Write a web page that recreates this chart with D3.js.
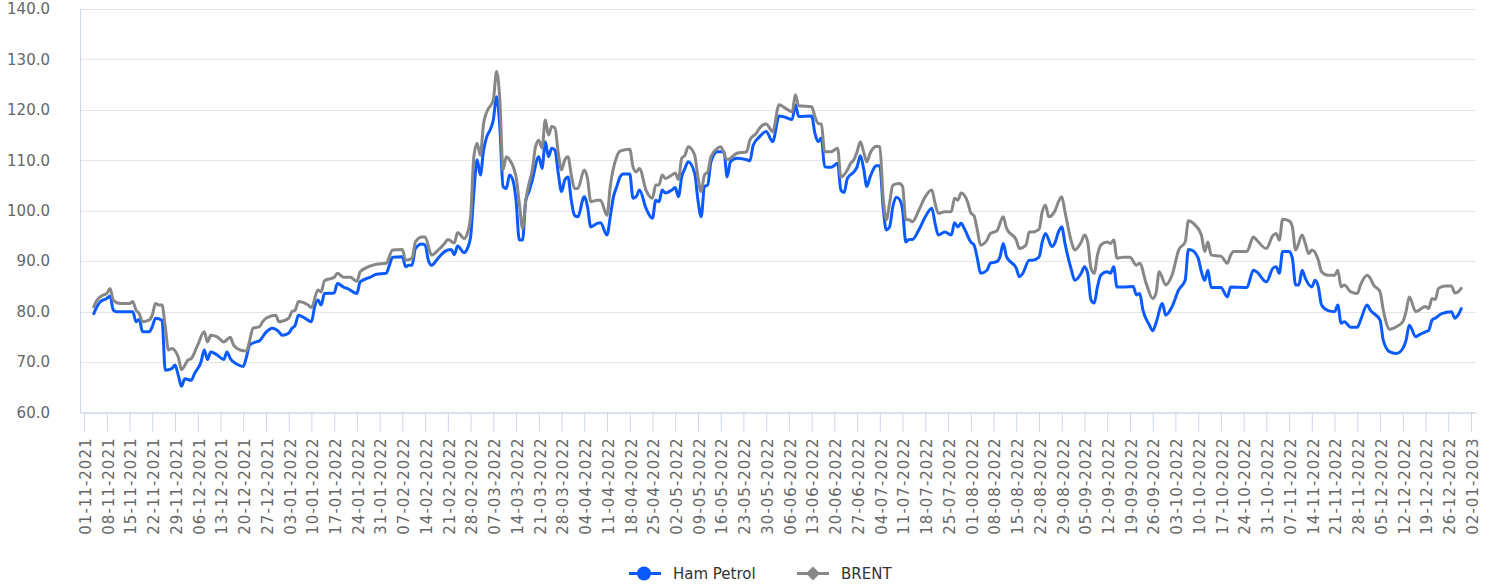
<!DOCTYPE html>
<html>
<head>
<meta charset="utf-8">
<script src="https://cdn.jsdelivr.net/npm/d3@7/dist/d3.min.js"></script>
<style>
  html, body { margin: 0; padding: 0; background: #fff; }
  svg { display: block; font-family: "DejaVu Sans", Verdana, sans-serif; }
</style>
</head>
<body>
<div id="chart"></div>
<script>
// daily close
const hamPetrol = [
  ['2021-11-04', 79.6], ['2021-11-05', 81.0], ['2021-11-06', 82.0], ['2021-11-08', 82.6], ['2021-11-09', 83.1],
  ['2021-11-10', 80.3], ['2021-11-11', 80.0], ['2021-11-16', 80.0], ['2021-11-17', 78.0], ['2021-11-18', 78.5],
  ['2021-11-19', 76.0], ['2021-11-21', 76.0], ['2021-11-22', 77.0], ['2021-11-23', 78.7], ['2021-11-25', 78.3],
  ['2021-11-26', 68.4], ['2021-11-28', 68.7], ['2021-11-29', 69.4], ['2021-11-30', 67.4], ['2021-12-01', 65.2],
  ['2021-12-02', 66.7], ['2021-12-04', 66.4], ['2021-12-05', 67.7], ['2021-12-07', 70.0], ['2021-12-08', 72.4],
  ['2021-12-09', 70.5], ['2021-12-10', 72.0], ['2021-12-12', 71.4], ['2021-12-14', 70.5], ['2021-12-15', 72.0],
  ['2021-12-16', 70.7], ['2021-12-18', 69.6], ['2021-12-20', 69.1], ['2021-12-21', 71.0], ['2021-12-22', 73.4],
  ['2021-12-24', 74.0], ['2021-12-25', 74.2], ['2021-12-27', 75.9], ['2021-12-29', 76.7], ['2021-12-31', 76.0],
  ['2022-01-01', 75.3], ['2022-01-03', 75.7], ['2022-01-04', 76.7], ['2022-01-05', 77.3], ['2022-01-06', 79.3],
  ['2022-01-08', 78.7], ['2022-01-10', 78.0], ['2022-01-11', 81.0], ['2022-01-12', 82.3], ['2022-01-13', 81.3],
  ['2022-01-14', 83.6], ['2022-01-17', 83.7], ['2022-01-18', 85.6], ['2022-01-20', 84.8], ['2022-01-21', 84.6],
  ['2022-01-24', 83.6], ['2022-01-25', 85.9], ['2022-01-28', 86.8], ['2022-01-30', 87.4], ['2022-02-02', 87.6],
  ['2022-02-03', 89.2], ['2022-02-04', 90.8], ['2022-02-07', 90.9], ['2022-02-08', 88.9], ['2022-02-09', 89.2],
  ['2022-02-10', 89.2], ['2022-02-11', 92.5], ['2022-02-13', 93.4], ['2022-02-14', 93.2], ['2022-02-15', 90.2],
  ['2022-02-16', 89.2], ['2022-02-18', 90.6], ['2022-02-20', 91.9], ['2022-02-22', 92.3], ['2022-02-23', 91.3],
  ['2022-02-24', 93.0], ['2022-02-26', 91.7], ['2022-02-27', 92.5], ['2022-02-28', 94.8], ['2022-03-01', 103.5],
  ['2022-03-02', 110.1], ['2022-03-03', 107.1], ['2022-03-04', 112.0], ['2022-03-05', 114.7], ['2022-03-06', 116.0],
  ['2022-03-07', 118.0], ['2022-03-08', 122.6], ['2022-03-09', 116.7], ['2022-03-10', 104.8], ['2022-03-11', 104.4],
  ['2022-03-12', 107.1], ['2022-03-13', 106.1], ['2022-03-14', 102.1], ['2022-03-15', 94.2], ['2022-03-16', 94.2],
  ['2022-03-17', 102.1], ['2022-03-18', 103.8], ['2022-03-19', 106.1], ['2022-03-21', 110.7], ['2022-03-22', 108.4],
  ['2022-03-23', 113.7], ['2022-03-24', 110.7], ['2022-03-25', 112.4], ['2022-03-26', 112.0], ['2022-03-27', 107.4],
  ['2022-03-28', 103.8], ['2022-03-29', 106.1], ['2022-03-30', 106.7], ['2022-03-31', 102.1], ['2022-04-01', 99.1],
  ['2022-04-02', 98.8], ['2022-04-04', 102.8], ['2022-04-05', 100.8], ['2022-04-06', 96.8], ['2022-04-08', 97.5],
  ['2022-04-09', 97.6], ['2022-04-11', 95.2], ['2022-04-12', 98.8], ['2022-04-13', 102.8], ['2022-04-14', 104.8],
  ['2022-04-15', 106.7], ['2022-04-16', 107.3], ['2022-04-18', 107.3], ['2022-04-19', 102.5], ['2022-04-20', 102.8],
  ['2022-04-21', 104.1], ['2022-04-23', 100.5], ['2022-04-25', 98.5], ['2022-04-26', 102.1], ['2022-04-27', 101.8],
  ['2022-04-28', 104.1], ['2022-04-29', 103.5], ['2022-05-01', 104.1], ['2022-05-02', 104.6], ['2022-05-03', 102.8],
  ['2022-05-04', 106.7], ['2022-05-05', 108.4], ['2022-05-06', 109.7], ['2022-05-08', 107.4], ['2022-05-09', 102.1],
  ['2022-05-10', 98.8], ['2022-05-11', 104.8], ['2022-05-12', 105.1], ['2022-05-13', 109.7], ['2022-05-15', 111.7],
  ['2022-05-17', 111.7], ['2022-05-18', 106.7], ['2022-05-19', 109.7], ['2022-05-21', 110.4], ['2022-05-24', 110.1],
  ['2022-05-25', 109.9], ['2022-05-26', 113.0], ['2022-05-28', 114.7], ['2022-05-30', 115.7], ['2022-06-01', 113.7],
  ['2022-06-03', 118.8], ['2022-06-05', 118.5], ['2022-06-07', 118.1], ['2022-06-08', 121.0], ['2022-06-09', 118.7],
  ['2022-06-13', 118.8], ['2022-06-14', 115.4], ['2022-06-15', 113.7], ['2022-06-16', 114.4], ['2022-06-17', 108.7],
  ['2022-06-19', 108.6], ['2022-06-21', 109.4], ['2022-06-22', 104.1], ['2022-06-23', 103.6], ['2022-06-24', 106.4],
  ['2022-06-26', 107.7], ['2022-06-27', 108.7], ['2022-06-28', 110.9], ['2022-06-29', 108.4], ['2022-06-30', 104.8],
  ['2022-07-01', 106.7], ['2022-07-03', 108.9], ['2022-07-04', 108.9], ['2022-07-05', 100.8], ['2022-07-06', 96.2],
  ['2022-07-07', 96.8], ['2022-07-08', 100.8], ['2022-07-09', 102.7], ['2022-07-10', 102.3], ['2022-07-11', 100.1],
  ['2022-07-12', 93.8], ['2022-07-13', 94.3], ['2022-07-14', 94.3], ['2022-07-16', 96.2], ['2022-07-18', 98.8],
  ['2022-07-20', 100.5], ['2022-07-21', 97.5], ['2022-07-22', 95.2], ['2022-07-24', 95.8], ['2022-07-26', 95.2],
  ['2022-07-27', 97.6], ['2022-07-28', 96.8], ['2022-07-29', 97.5], ['2022-07-30', 96.5], ['2022-08-01', 93.8],
  ['2022-08-02', 93.2], ['2022-08-03', 90.6], ['2022-08-04', 87.6], ['2022-08-06', 88.2], ['2022-08-07', 89.6],
  ['2022-08-09', 89.9], ['2022-08-10', 90.9], ['2022-08-11', 93.5], ['2022-08-12', 90.9], ['2022-08-15', 88.6],
  ['2022-08-16', 86.9], ['2022-08-17', 87.6], ['2022-08-19', 90.2], ['2022-08-20', 90.2], ['2022-08-22', 90.8],
  ['2022-08-23', 93.8], ['2022-08-24', 95.5], ['2022-08-26', 92.9], ['2022-08-27', 93.8], ['2022-08-28', 95.8],
  ['2022-08-29', 96.8], ['2022-08-30', 93.5], ['2022-09-01', 88.2], ['2022-09-02', 86.2], ['2022-09-04', 87.6],
  ['2022-09-05', 88.9], ['2022-09-06', 87.6], ['2022-09-07', 82.3], ['2022-09-08', 81.7], ['2022-09-09', 84.9],
  ['2022-09-10', 87.2], ['2022-09-12', 87.9], ['2022-09-13', 87.6], ['2022-09-14', 88.9], ['2022-09-15', 84.9],
  ['2022-09-17', 84.9], ['2022-09-20', 85.0], ['2022-09-21', 83.3], ['2022-09-22', 83.6], ['2022-09-23', 80.3],
  ['2022-09-25', 77.3], ['2022-09-26', 76.2], ['2022-09-27', 77.7], ['2022-09-29', 81.6], ['2022-09-30', 79.3],
  ['2022-10-02', 81.0], ['2022-10-04', 84.3], ['2022-10-06', 86.2], ['2022-10-07', 92.3], ['2022-10-08', 92.2],
  ['2022-10-10', 90.6], ['2022-10-11', 87.9], ['2022-10-12', 86.2], ['2022-10-13', 88.2], ['2022-10-14', 84.8],
  ['2022-10-17', 84.8], ['2022-10-19', 82.9], ['2022-10-20', 84.9], ['2022-10-25', 84.8], ['2022-10-27', 88.2],
  ['2022-10-28', 87.9], ['2022-10-31', 85.9], ['2022-11-02', 88.6], ['2022-11-03', 88.9], ['2022-11-04', 87.6],
  ['2022-11-05', 91.9], ['2022-11-07', 91.9], ['2022-11-08', 90.6], ['2022-11-09', 85.3], ['2022-11-10', 85.3],
  ['2022-11-11', 88.2], ['2022-11-12', 86.6], ['2022-11-14', 84.9], ['2022-11-15', 86.2], ['2022-11-16', 84.9],
  ['2022-11-17', 81.3], ['2022-11-19', 80.2], ['2022-11-21', 80.0], ['2022-11-22', 81.3], ['2022-11-23', 77.7],
  ['2022-11-24', 78.0], ['2022-11-26', 76.9], ['2022-11-28', 76.9], ['2022-11-29', 78.3], ['2022-12-01', 81.3],
  ['2022-12-02', 80.3], ['2022-12-05', 78.3], ['2022-12-06', 74.3], ['2022-12-08', 72.0], ['2022-12-10', 71.7],
  ['2022-12-12', 72.7], ['2022-12-13', 74.3], ['2022-12-14', 77.3], ['2022-12-16', 75.0], ['2022-12-17', 75.4],
  ['2022-12-19', 76.0], ['2022-12-20', 76.3], ['2022-12-21', 78.3], ['2022-12-22', 78.7], ['2022-12-24', 79.6],
  ['2022-12-27', 80.0], ['2022-12-28', 78.7], ['2022-12-29', 79.3], ['2022-12-30', 80.6]
];

const brent = [
  ['2021-11-04', 81.0], ['2021-11-05', 82.3], ['2021-11-07', 83.3], ['2021-11-08', 83.6], ['2021-11-09', 84.6],
  ['2021-11-10', 82.3], ['2021-11-12', 81.6], ['2021-11-15', 81.6], ['2021-11-16', 82.0], ['2021-11-17', 80.3],
  ['2021-11-18', 79.6], ['2021-11-19', 78.0], ['2021-11-21', 78.3], ['2021-11-22', 79.3], ['2021-11-23', 81.6],
  ['2021-11-24', 81.3], ['2021-11-25', 81.3], ['2021-11-26', 77.0], ['2021-11-27', 72.4], ['2021-11-28', 72.7],
  ['2021-11-30', 71.0], ['2021-12-01', 68.5], ['2021-12-03', 70.4], ['2021-12-04', 70.7], ['2021-12-06', 73.4],
  ['2021-12-08', 76.0], ['2021-12-09', 74.0], ['2021-12-10', 75.3], ['2021-12-12', 75.0], ['2021-12-14', 74.0],
  ['2021-12-16', 74.9], ['2021-12-17', 73.4], ['2021-12-19', 72.4], ['2021-12-21', 72.2], ['2021-12-22', 74.3],
  ['2021-12-23', 76.7], ['2021-12-25', 77.0], ['2021-12-26', 78.0], ['2021-12-27', 78.7], ['2021-12-30', 79.3],
  ['2021-12-31', 78.0], ['2022-01-03', 78.7], ['2022-01-04', 80.0], ['2022-01-05', 80.3], ['2022-01-06', 82.0],
  ['2022-01-09', 81.3], ['2022-01-10', 80.8], ['2022-01-12', 84.3], ['2022-01-13', 83.9], ['2022-01-14', 86.1],
  ['2022-01-17', 86.8], ['2022-01-18', 87.6], ['2022-01-20', 86.8], ['2022-01-22', 86.8], ['2022-01-24', 86.0],
  ['2022-01-25', 87.9], ['2022-01-28', 89.0], ['2022-01-30', 89.4], ['2022-02-02', 89.6], ['2022-02-04', 92.2],
  ['2022-02-07', 92.3], ['2022-02-08', 90.2], ['2022-02-10', 90.6], ['2022-02-11', 93.8], ['2022-02-13', 94.8],
  ['2022-02-14', 94.8], ['2022-02-16', 91.2], ['2022-02-18', 92.2], ['2022-02-20', 93.5], ['2022-02-21', 94.3],
  ['2022-02-23', 93.6], ['2022-02-24', 95.7], ['2022-02-26', 94.5], ['2022-02-27', 95.5], ['2022-02-28', 98.8],
  ['2022-03-01', 110.7], ['2022-03-02', 113.4], ['2022-03-03', 111.0], ['2022-03-04', 117.3], ['2022-03-05', 119.6],
  ['2022-03-07', 122.0], ['2022-03-08', 127.6], ['2022-03-09', 122.0], ['2022-03-10', 108.1], ['2022-03-11', 110.7],
  ['2022-03-12', 110.1], ['2022-03-14', 106.7], ['2022-03-15', 101.5], ['2022-03-16', 96.5], ['2022-03-17', 102.1],
  ['2022-03-18', 105.4], ['2022-03-19', 108.1], ['2022-03-20', 112.7], ['2022-03-21', 114.0], ['2022-03-22', 112.4],
  ['2022-03-23', 118.0], ['2022-03-24', 115.0], ['2022-03-25', 116.7], ['2022-03-26', 116.4], ['2022-03-27', 111.4],
  ['2022-03-28', 108.1], ['2022-03-29', 110.1], ['2022-03-30', 110.7], ['2022-03-31', 107.1], ['2022-04-01', 104.4],
  ['2022-04-02', 104.4], ['2022-04-04', 108.1], ['2022-04-05', 106.4], ['2022-04-06', 101.8], ['2022-04-08', 102.1],
  ['2022-04-09', 102.1], ['2022-04-11', 99.1], ['2022-04-12', 104.8], ['2022-04-14', 110.7], ['2022-04-15', 111.8],
  ['2022-04-18', 112.2], ['2022-04-19', 108.7], ['2022-04-20', 107.7], ['2022-04-21', 108.4], ['2022-04-23', 104.1],
  ['2022-04-25', 102.5], ['2022-04-26', 105.1], ['2022-04-27', 105.1], ['2022-04-28', 107.1], ['2022-04-29', 106.4],
  ['2022-05-01', 107.1], ['2022-05-02', 107.5], ['2022-05-03', 106.2], ['2022-05-04', 110.4], ['2022-05-05', 111.0],
  ['2022-05-06', 112.7], ['2022-05-08', 111.0], ['2022-05-09', 106.7], ['2022-05-10', 103.8], ['2022-05-11', 107.1],
  ['2022-05-12', 107.7], ['2022-05-13', 110.7], ['2022-05-15', 112.4], ['2022-05-16', 112.7], ['2022-05-18', 110.1],
  ['2022-05-19', 110.4], ['2022-05-21', 111.4], ['2022-05-24', 111.7], ['2022-05-25', 114.0], ['2022-05-27', 115.4],
  ['2022-05-28', 116.4], ['2022-05-30', 117.2], ['2022-06-01', 115.7], ['2022-06-03', 121.0], ['2022-06-05', 120.3],
  ['2022-06-07', 119.6], ['2022-06-08', 123.0], ['2022-06-09', 120.8], ['2022-06-13', 120.6], ['2022-06-14', 118.7],
  ['2022-06-15', 117.3], ['2022-06-16', 117.2], ['2022-06-17', 111.7], ['2022-06-19', 111.7], ['2022-06-21', 112.4],
  ['2022-06-22', 106.7], ['2022-06-24', 108.1], ['2022-06-25', 109.4], ['2022-06-26', 110.1], ['2022-06-27', 111.7],
  ['2022-06-28', 113.7], ['2022-06-29', 111.7], ['2022-06-30', 109.7], ['2022-07-01', 111.4], ['2022-07-03', 112.8],
  ['2022-07-04', 112.7], ['2022-07-05', 102.8], ['2022-07-06', 98.2], ['2022-07-07', 101.5], ['2022-07-08', 105.1],
  ['2022-07-10', 105.4], ['2022-07-11', 104.8], ['2022-07-12', 98.2], ['2022-07-13', 98.2], ['2022-07-14', 97.8],
  ['2022-07-16', 100.1], ['2022-07-18', 102.8], ['2022-07-20', 104.1], ['2022-07-21', 101.5], ['2022-07-22', 99.5],
  ['2022-07-24', 99.8], ['2022-07-26', 99.8], ['2022-07-27', 102.5], ['2022-07-28', 102.1], ['2022-07-29', 103.5],
  ['2022-07-31', 101.8], ['2022-08-01', 99.6], ['2022-08-02', 99.0], ['2022-08-03', 96.2], ['2022-08-04', 93.2],
  ['2022-08-06', 94.2], ['2022-08-07', 95.5], ['2022-08-09', 96.0], ['2022-08-11', 98.8], ['2022-08-12', 96.5],
  ['2022-08-15', 94.2], ['2022-08-16', 92.5], ['2022-08-18', 93.2], ['2022-08-19', 95.8], ['2022-08-20', 95.8],
  ['2022-08-22', 96.3], ['2022-08-23', 99.8], ['2022-08-24', 101.1], ['2022-08-25', 98.8], ['2022-08-27', 100.1],
  ['2022-08-28', 101.8], ['2022-08-29', 102.8], ['2022-08-30', 99.8], ['2022-09-01', 93.8], ['2022-09-02', 92.2],
  ['2022-09-04', 93.8], ['2022-09-05', 95.2], ['2022-09-06', 93.8], ['2022-09-07', 88.6], ['2022-09-08', 87.6],
  ['2022-09-09', 91.2], ['2022-09-10', 93.2], ['2022-09-12', 93.8], ['2022-09-13', 93.5], ['2022-09-14', 94.2],
  ['2022-09-15', 90.6], ['2022-09-17', 90.8], ['2022-09-19', 90.8], ['2022-09-21', 89.2], ['2022-09-22', 89.6],
  ['2022-09-24', 85.6], ['2022-09-26', 82.6], ['2022-09-27', 83.6], ['2022-09-28', 87.9], ['2022-09-30', 85.3],
  ['2022-10-02', 87.3], ['2022-10-04', 92.2], ['2022-10-06', 93.8], ['2022-10-07', 98.0], ['2022-10-09', 97.2],
  ['2022-10-11', 95.2], ['2022-10-12', 91.9], ['2022-10-13', 93.8], ['2022-10-14', 91.2], ['2022-10-17', 91.0],
  ['2022-10-19', 89.6], ['2022-10-20', 91.2], ['2022-10-21', 91.9], ['2022-10-25', 91.9], ['2022-10-27', 94.8],
  ['2022-10-28', 94.2], ['2022-10-31', 92.5], ['2022-11-02', 95.1], ['2022-11-03', 95.5], ['2022-11-04', 94.2],
  ['2022-11-05', 98.3], ['2022-11-07', 98.0], ['2022-11-08', 96.8], ['2022-11-09', 92.2], ['2022-11-11', 95.2],
  ['2022-11-12', 93.5], ['2022-11-13', 91.5], ['2022-11-14', 92.2], ['2022-11-16', 90.2], ['2022-11-17', 87.9],
  ['2022-11-19', 87.2], ['2022-11-21', 87.2], ['2022-11-22', 88.2], ['2022-11-23', 84.9], ['2022-11-24', 85.3],
  ['2022-11-26', 83.9], ['2022-11-28', 83.6], ['2022-11-29', 85.3], ['2022-12-01', 87.2], ['2022-12-02', 86.6],
  ['2022-12-03', 85.3], ['2022-12-05', 83.9], ['2022-12-06', 80.3], ['2022-12-08', 76.5], ['2022-12-10', 77.0],
  ['2022-12-12', 78.0], ['2022-12-13', 80.0], ['2022-12-14', 82.9], ['2022-12-16', 80.0], ['2022-12-17', 80.3],
  ['2022-12-19', 81.0], ['2022-12-20', 80.6], ['2022-12-21', 82.6], ['2022-12-22', 82.4], ['2022-12-23', 84.6],
  ['2022-12-25', 85.1], ['2022-12-27', 85.1], ['2022-12-28', 83.7], ['2022-12-29', 83.9], ['2022-12-30', 84.6]
];

const seriesNames  = ['Ham Petrol', 'BRENT'];
const seriesColors = ['#0a5bff', '#878787'];
const yTicks       = [60, 70, 80, 90, 100, 110, 120, 130, 140];
const axisStart    = '2021-11-01';
const axisEnd      = '2023-01-02';

const W = 1493, H = 587;
const plotL = 80, plotR = 1476, plotT = 9, plotB = 412.5;
const parse = d3.timeParse('%Y-%m-%d');
const fmt   = d3.timeFormat('%d-%m-%Y');

const svg = d3.select('#chart').append('svg').attr('width', W).attr('height', H);

const t0 = parse(axisStart), t1 = parse(axisEnd);
const x = d3.scaleTime()
  .domain([d3.timeHour.offset(t0, -30), d3.timeHour.offset(t1, 37)])
  .range([plotL, plotR]);
const y = d3.scaleLinear().domain([60, 140]).range([plotB, plotT]);

// grid
svg.append('g').selectAll('line').data(yTicks.slice(1)).join('line')
  .attr('x1', plotL).attr('x2', plotR)
  .attr('y1', d => Math.round(y(d)) + 0.5).attr('y2', d => Math.round(y(d)) + 0.5)
  .attr('stroke', '#e6e6e6').attr('stroke-width', 1);

// y labels
svg.append('g').selectAll('text').data(yTicks).join('text')
  .attr('x', 50).attr('y', d => y(d)).attr('dy', '0.35em')
  .attr('text-anchor', 'end').attr('font-size', '15px').attr('fill', '#666666')
  .text(d3.format('.1f'));

// y axis line
svg.append('line').attr('x1', plotL + 0.5).attr('x2', plotL + 0.5)
  .attr('y1', plotT).attr('y2', plotB)
  .attr('stroke', '#ccd6eb').attr('stroke-width', 1);

// x axis
const xAxis = d3.axisBottom(x)
  .ticks(d3.timeMonday.every(1))
  .tickFormat(fmt)
  .tickSize(19).tickSizeOuter(0);

const gx = svg.append('g').attr('transform', `translate(0,${plotB})`).call(xAxis);
gx.select('.domain').attr('stroke', '#ccd6eb').attr('stroke-width', 1.5);
gx.selectAll('.tick line').attr('stroke', '#ccd6eb').attr('stroke-width', 1);
gx.selectAll('.tick text')
  .attr('transform', 'rotate(-90)')
  .attr('x', -25).attr('y', 0).attr('dy', '0.42em')
  .attr('text-anchor', 'end')
  .attr('font-family', '"DejaVu Sans", Verdana, sans-serif')
  .attr('font-size', '15px').attr('letter-spacing', '1px')
  .attr('fill', '#666666');

// lines
const line = d3.line()
  .x(d => x(parse(d[0])))
  .y(d => y(d[1]))
  .curve(d3.curveMonotoneX);

[hamPetrol, brent].forEach((data, i) => {
  svg.append('path').datum(data)
    .attr('fill', 'none')
    .attr('stroke', seriesColors[i])
    .attr('stroke-width', 3)
    .attr('stroke-linejoin', 'round')
    .attr('stroke-linecap', 'round')
    .attr('d', line);
});

// legend
const legendY = 573.5;
const legendX = [629, 797];
seriesNames.forEach((name, i) => {
  const g = svg.append('g').attr('transform', `translate(${legendX[i]},${legendY})`);
  g.append('line').attr('x1', 0).attr('x2', 32).attr('y1', 0).attr('y2', 0)
    .attr('stroke', seriesColors[i]).attr('stroke-width', 3);
  if (i === 0) {
    g.append('circle').attr('cx', 15).attr('cy', 0).attr('r', 7).attr('fill', seriesColors[i]);
  } else {
    g.append('path').attr('d', 'M16,-7 L23,0 L16,7 L9,0 Z').attr('fill', seriesColors[i]);
  }
  g.append('text').attr('x', 44).attr('y', 0).attr('dy', '0.36em')
    .attr('font-size', '15px').attr('fill', '#333333')
    .text(name);
});
</script>
</body>
</html>
